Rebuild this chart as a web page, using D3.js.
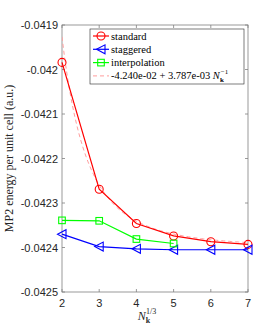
<!DOCTYPE html>
<html>
<head>
<meta charset="utf-8">
<script src="https://cdn.jsdelivr.net/npm/d3@7"></script>
<style>
  body { margin: 0; background: #fff; }
  svg { display: block; }
</style>
</head>
<body>
<div id="chart"></div>
<script>
// values
const nk = [2, 3, 4, 5, 6, 7];
const standard = [-0.041984, -0.042269, -0.042346, -0.042374, -0.042387, -0.042393];
const staggered = [-0.042370, -0.042398, -0.042403, -0.042405, -0.042405, -0.042405];
const interpN = [2, 3, 4, 5];
const interpolation = [-0.042339, -0.042340, -0.042381, -0.042391];
const fitA = -4.240e-02;
const fitB = 3.787e-03;
const yTicks = [-0.0425, -0.0424, -0.0423, -0.0422, -0.0421, -0.042, -0.0419];
const xTicks = [2, 3, 4, 5, 6, 7];

const width = 274, height = 329;
const m = { left: 62, right: 26, top: 25, bottom: 37 };

const svg = d3.select('#chart').append('svg')
  .attr('width', width)
  .attr('height', height);

const x = d3.scaleLinear().domain([2, 7]).range([m.left, width - m.right]);
const y = d3.scaleLinear().domain([-0.0425, -0.0419]).range([height - m.bottom, m.top]);

const axisColor = '#808080';
const tickLen = 3;

// box
svg.append('rect')
  .attr('x', x(2)).attr('y', y(-0.0419))
  .attr('width', x(7) - x(2)).attr('height', y(-0.0425) - y(-0.0419))
  .attr('fill', 'none').attr('stroke', axisColor).attr('stroke-width', 0.8);

// y ticks
yTicks.forEach(t => {
  const yy = y(t);
  svg.append('line').attr('x1', x(2)).attr('x2', x(2) + tickLen).attr('y1', yy).attr('y2', yy)
    .attr('stroke', axisColor).attr('stroke-width', 0.8);
  svg.append('line').attr('x1', x(7)).attr('x2', x(7) - tickLen).attr('y1', yy).attr('y2', yy)
    .attr('stroke', axisColor).attr('stroke-width', 0.8);
  svg.append('text').attr('x', x(2) - 4).attr('y', yy + 4)
    .attr('text-anchor', 'end')
    .attr('font-family', 'Liberation Sans, Arial, sans-serif').attr('font-size', 11)
    .attr('fill', '#262626')
    .text(String(t));
});
// x ticks
xTicks.forEach(t => {
  const xx = x(t);
  svg.append('line').attr('x1', xx).attr('x2', xx).attr('y1', y(-0.0425)).attr('y2', y(-0.0425) - tickLen)
    .attr('stroke', axisColor).attr('stroke-width', 0.8);
  svg.append('line').attr('x1', xx).attr('x2', xx).attr('y1', y(-0.0419)).attr('y2', y(-0.0419) + tickLen)
    .attr('stroke', axisColor).attr('stroke-width', 0.8);
  svg.append('text').attr('x', xx).attr('y', y(-0.0425) + 15)
    .attr('text-anchor', 'middle')
    .attr('font-family', 'Liberation Sans, Arial, sans-serif').attr('font-size', 11)
    .attr('fill', '#262626')
    .text(t);
});

// axis labels
const xl = svg.append('text').attr('x', x(4.5) - 8).attr('y', height - 9)
  .attr('text-anchor', 'middle').attr('font-family', 'Liberation Serif, serif').attr('font-size', 12)
  .attr('fill', '#262626');
xl.append('tspan').attr('font-style', 'italic').text('N');
xl.append('tspan').attr('font-size', 8).attr('font-weight', 'bold').attr('dy', 3).text('k');
xl.append('tspan').attr('font-size', 8).attr('dy', -9).attr('dx', -4).text('1/3');

svg.append('text')
  .attr('transform', `translate(13,${(y(-0.0419) + y(-0.0425)) / 2}) rotate(-90)`)
  .attr('text-anchor', 'middle').attr('font-family', 'Liberation Serif, serif').attr('font-size', 12)
  .attr('fill', '#262626')
  .text('MP2 energy per unit cell (a.u.)');

// clip
svg.append('clipPath').attr('id', 'clip').append('rect')
  .attr('x', x(2)).attr('y', y(-0.0419))
  .attr('width', x(7) - x(2)).attr('height', y(-0.0425) - y(-0.0419));

const line = d3.line().x(d => x(d[0])).y(d => y(d[1]));

// fit curve
const fitPts = d3.range(2, 7.001, 0.05).map(n => [n, fitA + fitB / (n * n * n)]);
svg.append('path').datum(fitPts).attr('d', line)
  .attr('clip-path', 'url(#clip)')
  .attr('fill', 'none').attr('stroke', '#ff9d9d').attr('stroke-width', 1)
  .attr('stroke-dasharray', '4,3');

function series(xs, ys, color, marker) {
  const pts = xs.map((n, i) => [n, ys[i]]);
  svg.append('path').datum(pts).attr('d', line)
    .attr('fill', 'none').attr('stroke', color).attr('stroke-width', 1.2);
  const g = svg.append('g');
  pts.forEach(p => drawMarker(g, x(p[0]), y(p[1]), color, marker));
}

function drawMarker(g, cx, cy, color, marker) {
  if (marker === 'circle') {
    g.append('circle').attr('cx', cx).attr('cy', cy).attr('r', 4)
      .attr('fill', 'none').attr('stroke', color).attr('stroke-width', 1.1);
  } else if (marker === 'tri') {
    g.append('path').attr('d', `M${cx - 4.5},${cy} L${cx + 4},${cy - 4.5} L${cx + 4},${cy + 4.5} Z`)
      .attr('fill', 'none').attr('stroke', color).attr('stroke-width', 1.1);
  } else {
    g.append('rect').attr('x', cx - 3.3).attr('y', cy - 3.3).attr('width', 6.6).attr('height', 6.6)
      .attr('fill', 'none').attr('stroke', color).attr('stroke-width', 1.1);
  }
}

series(nk, standard, '#ff0000', 'circle');
series(nk, staggered, '#0000ff', 'tri');
series(interpN, interpolation, '#00ff00', 'square');

// matlab-style exponent: -4.240e-02
const expFmt = v => {
  const [mant, ex] = v.toExponential(3).split('e');
  const sign = ex[0];
  const digits = ex.slice(1).padStart(2, '0');
  return `${mant}e${sign}${digits}`;
};

// legend
const lg = svg.append('g');
lg.append('rect').attr('x', 90).attr('y', 29).attr('width', 154).attr('height', 55)
  .attr('fill', '#fff').attr('stroke', '#262626').attr('stroke-width', 0.6);
const entries = [
  { label: 'standard', color: '#ff0000', marker: 'circle' },
  { label: 'staggered', color: '#0000ff', marker: 'tri' },
  { label: 'interpolation', color: '#00ff00', marker: 'square' },
  { label: 'fit', color: '#ff9d9d', marker: null }
];
entries.forEach((e, i) => {
  const yy = 36 + i * 13.3;
  lg.append('line').attr('x1', 93).attr('x2', 109).attr('y1', yy).attr('y2', yy)
    .attr('stroke', e.color).attr('stroke-width', e.marker ? 1.2 : 1)
    .attr('stroke-dasharray', e.marker ? null : '4,3');
  if (e.marker) drawMarker(lg, 101, yy, e.color, e.marker);
  const t = lg.append('text').attr('x', 111).attr('y', yy + 3.5)
    .attr('font-family', 'Liberation Serif, serif').attr('font-size', 10.5).attr('fill', '#000');
  if (e.marker) {
    t.text(e.label);
  } else {
    t.append('tspan').text(`${expFmt(fitA)} + ${expFmt(fitB)} `);
    t.append('tspan').attr('font-style', 'italic').text('N');
    t.append('tspan').attr('font-size', 7).attr('font-weight', 'bold').attr('dy', 3).text('k');
    t.append('tspan').attr('font-size', 7).attr('dy', -8).attr('dx', -3).text('−1');
  }
});
</script>
</body>
</html>
